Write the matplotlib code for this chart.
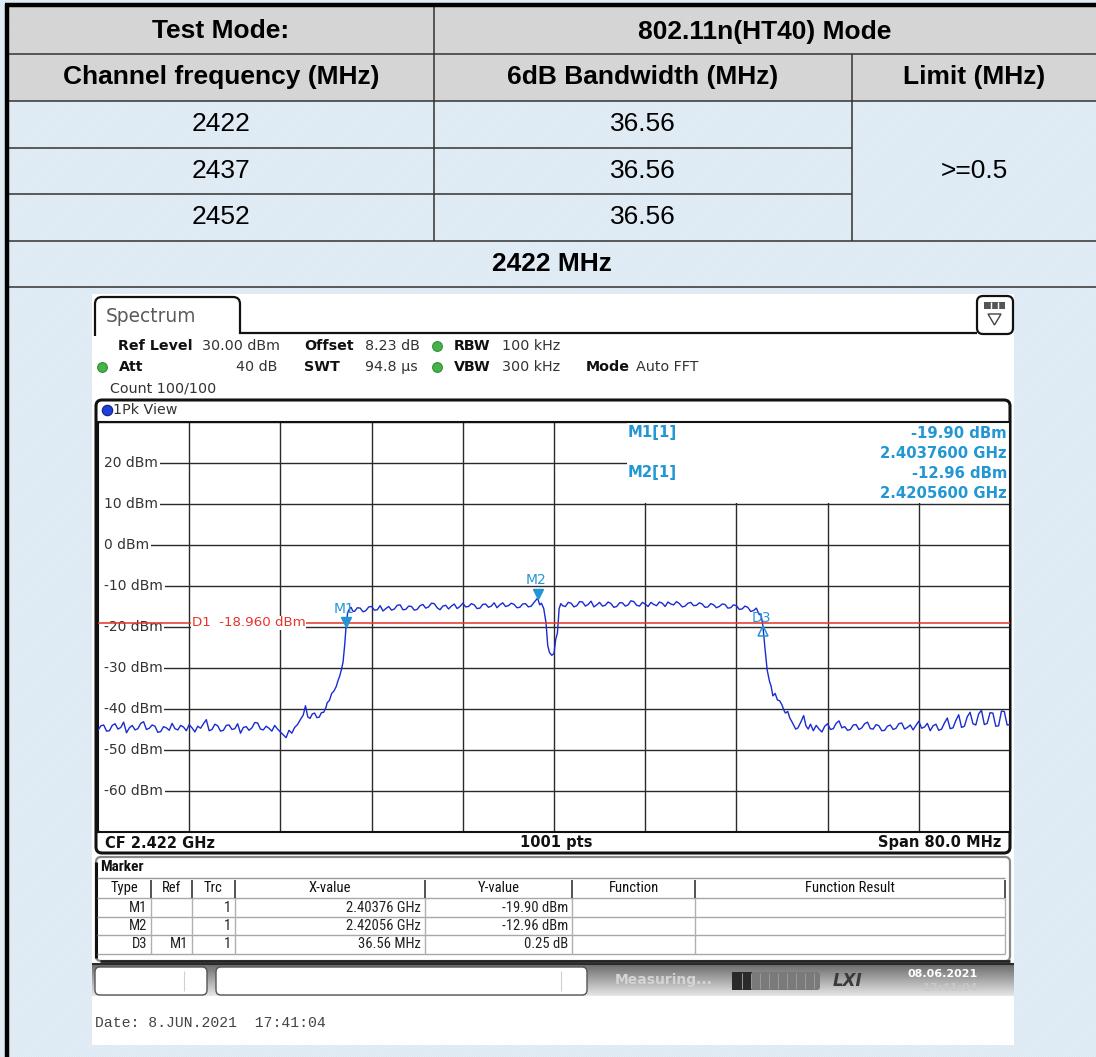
import numpy as np
import matplotlib
matplotlib.use("Agg")
import matplotlib.pyplot as plt
from matplotlib import font_manager
from matplotlib.patches import Rectangle, FancyBboxPatch, Polygon, PathPatch
from matplotlib.path import Path
from matplotlib.transforms import blended_transform_factory, offset_copy

W, H = 1096, 1057

# ---- summary table ----
test_mode = "802.11n(HT40) Mode"
col_titles = ["Channel frequency (MHz)", "6dB Bandwidth (MHz)", "Limit (MHz)"]
channels_mhz = [2422, 2437, 2452]
bandwidth_mhz = [36.56, 36.56, 36.56]
limit_text = ">=0.5"
shown_channel = "2422 MHz"

# ---- analyzer setup ----
center_ghz = 2.422
span_mhz = 80.0
ref_level_dbm = 30.0
db_per_div = 10
n_div = 10
sweep_points = 1001
d1_dbm = -18.960

# ---- trace: (offset from start freq in MHz, level dBm) ----
trace_points = [
    # noise floor, left
    (0.00, -45.2), (0.25, -44.1), (0.5, -43.9), (0.75, -45.4), (1.0, -45.3),
    (1.25, -44.0), (1.5, -43.6), (1.75, -44.9), (2.0, -44.5), (2.25, -43.2),
    (2.5, -45.8), (2.75, -44.6), (3.0, -44.0), (3.25, -45.1), (3.5, -44.8),
    (3.75, -43.5), (4.0, -43.1), (4.25, -45.0), (4.5, -44.7), (4.75, -43.9),
    (5.0, -44.2), (5.25, -45.7), (5.5, -45.5), (5.75, -44.3), (6.0, -44.6),
    (6.25, -45.2), (6.5, -43.5), (6.75, -44.8), (7.0, -45.1), (7.25, -44.0),
    (7.5, -44.4), (7.75, -45.3), (8.0, -43.8), (8.25, -44.6), (8.5, -45.6),
    (8.75, -44.2), (9.0, -44.7), (9.25, -43.6), (9.5, -42.6), (9.75, -45.3),
    (10.0, -45.0), (10.25, -43.7), (10.5, -44.1), (10.75, -45.4), (11.0, -45.2),
    (11.25, -44.0), (11.5, -43.9), (11.75, -45.0), (12.0, -44.8), (12.25, -43.6),
    (12.5, -45.9), (12.75, -44.5), (13.0, -44.3), (13.25, -45.2), (13.5, -44.6),
    (13.75, -43.3), (14.0, -43.4), (14.25, -44.9), (14.5, -45.1), (14.75, -44.2),
    (15.0, -44.7), (15.25, -45.4), (15.5, -44.0), (15.75, -44.9), (16.0, -45.6),
    (16.25, -46.3), (16.5, -47.0), (16.75, -45.2), (17.0, -45.9), (17.25, -44.5),
    # lower band edge
    (17.5, -43.8), (17.75, -42.6), (18.0, -41.5), (18.2, -39.2), (18.4, -41.9),
    (18.6, -42.3), (18.8, -41.2), (19.0, -41.0), (19.2, -42.1), (19.4, -42.0),
    (19.6, -40.9), (19.8, -40.8), (20.0, -39.6), (20.1, -38.5), (20.3, -37.9),
    (20.5, -36.2), (20.7, -35.6), (20.9, -34.5), (21.05, -33.1), (21.2, -32.0),
    (21.35, -30.4), (21.5, -28.5), (21.65, -24.0), (21.76, -19.9), (21.9, -16.5),
    (22.05, -15.6), (22.2, -15.2), (22.35, -16.1),
    # in-band, left half
    (22.5, -16.2), (22.75, -15.3), (23.0, -15.4), (23.25, -16.3), (23.5, -16.0),
    (23.75, -15.1), (24.0, -15.0), (24.25, -15.9), (24.5, -15.8), (24.75, -14.8),
    (25.0, -16.1), (25.25, -15.5), (25.5, -15.0), (25.75, -15.9), (26.0, -15.6),
    (26.25, -14.7), (26.5, -14.6), (26.75, -15.8), (27.0, -15.7), (27.25, -14.9),
    (27.5, -15.0), (27.75, -15.9), (28.0, -15.7), (28.25, -14.8), (28.5, -14.5),
    (28.75, -15.4), (29.0, -15.1), (29.25, -14.2), (29.5, -14.3), (29.75, -15.3),
    (30.0, -15.8), (30.25, -14.9), (30.5, -14.7), (30.75, -15.6), (31.0, -14.9),
    (31.25, -14.4), (31.5, -15.5), (31.75, -15.0), (32.0, -14.2), (32.25, -15.1),
    (32.5, -15.0), (32.75, -14.3), (33.0, -14.6), (33.25, -15.5), (33.5, -15.4),
    (33.75, -14.5), (34.0, -14.4), (34.25, -15.2), (34.5, -14.9), (34.75, -14.1),
    (35.0, -15.3), (35.25, -14.6), (35.5, -14.1), (35.75, -15.0), (36.0, -14.8),
    (36.25, -14.2), (36.5, -14.5), (36.75, -15.3), (37.0, -15.2), (37.25, -14.4),
    (37.5, -14.3), (37.75, -15.1), (38.0, -14.9), (38.25, -14.0), (38.56, -12.96),
    (38.75, -14.6), (38.9, -14.2), (39.1, -15.5),
    # centre notch
    (39.3, -19.0), (39.45, -24.5), (39.6, -26.2), (39.8, -26.9), (40.0, -26.5),
    (40.15, -23.0), (40.3, -21.5), (40.45, -15.5), (40.6, -14.3),
    # in-band, right half
    (40.75, -14.8), (41.0, -15.0), (41.25, -14.0), (41.5, -14.2), (41.75, -15.1),
    (42.0, -14.8), (42.25, -13.8), (42.5, -13.9), (42.75, -14.9), (43.0, -14.5),
    (43.25, -13.7), (43.5, -15.1), (43.75, -14.6), (44.0, -14.0), (44.25, -14.9),
    (44.5, -14.7), (44.75, -13.9), (45.0, -14.3), (45.25, -15.2), (45.5, -15.0),
    (45.75, -14.1), (46.0, -14.1), (46.25, -14.9), (46.5, -14.6), (46.75, -13.6),
    (47.0, -13.8), (47.25, -14.7), (47.5, -14.9), (47.75, -14.0), (48.0, -14.4),
    (48.25, -15.0), (48.5, -14.0), (48.75, -14.5), (49.0, -14.8), (49.25, -13.9),
    (49.5, -14.2), (49.75, -15.0), (50.0, -13.9), (50.25, -14.4), (50.5, -14.6),
    (50.75, -13.8), (51.0, -14.3), (51.25, -15.1), (51.5, -14.9), (51.75, -14.2),
    (52.0, -14.0), (52.25, -14.8), (52.5, -14.7), (52.75, -14.1), (53.0, -14.4),
    (53.25, -15.2), (53.5, -15.1), (53.75, -14.3), (54.0, -14.6), (54.25, -15.3),
    (54.5, -15.0), (54.75, -14.4), (55.0, -14.5), (55.25, -15.4), (55.5, -15.3),
    (55.75, -14.6), (56.0, -14.8), (56.25, -15.7), (56.5, -15.6), (56.75, -14.9),
    (57.0, -15.2), (57.25, -16.2), (57.5, -16.0), (57.75, -15.4), (58.0, -17.0),
    (58.15, -16.8),
    # upper band edge
    (58.32, -19.65), (58.5, -25.0), (58.7, -30.5), (58.9, -33.2), (59.05, -34.5),
    (59.2, -36.8), (59.4, -36.2), (59.6, -37.8), (59.8, -38.0), (60.0, -39.0),
    (60.15, -40.2), (60.3, -41.0), (60.5, -40.6), (60.7, -42.3), (60.85, -43.0),
    (61.0, -43.8), (61.2, -44.9), (61.4, -44.6), (61.65, -43.2), (61.9, -41.6),
    (62.1, -44.1), (62.3, -44.9), (62.5, -43.7), (62.75, -45.3),
    # noise floor, right
    (63.0, -44.0), (63.25, -44.9), (63.5, -45.6), (63.75, -44.2), (64.0, -43.6),
    (64.25, -45.0), (64.5, -44.8), (64.75, -43.5), (65.0, -42.9), (65.25, -44.6),
    (65.5, -44.3), (65.75, -45.2), (66.0, -45.0), (66.25, -43.9), (66.5, -43.8),
    (66.75, -45.0), (67.0, -44.6), (67.25, -43.6), (67.5, -43.2), (67.75, -44.8),
    (68.0, -44.9), (68.25, -43.8), (68.5, -44.1), (68.75, -45.3), (69.0, -45.2),
    (69.25, -44.2), (69.5, -43.9), (69.75, -45.0), (70.0, -44.7), (70.25, -43.6),
    (70.5, -43.4), (70.75, -44.9), (71.0, -44.5), (71.25, -43.9), (71.5, -45.1),
    (71.75, -44.0), (72.0, -43.0), (72.25, -44.7), (72.5, -44.4), (72.75, -43.5),
    (73.0, -45.3), (73.25, -44.1), (73.5, -43.7), (73.75, -45.2), (74.0, -44.9),
    (74.25, -43.4), (74.5, -42.2), (74.75, -44.8), (75.0, -44.6), (75.25, -42.8),
    (75.5, -41.4), (75.75, -44.5), (76.0, -44.2), (76.25, -41.9), (76.5, -40.8),
    (76.75, -43.6), (77.0, -43.9), (77.25, -41.2), (77.5, -40.3), (77.75, -43.8),
    (78.0, -43.5), (78.25, -40.9), (78.5, -41.0), (78.75, -44.2), (79.0, -44.1),
    (79.25, -40.5), (79.5, -40.6), (79.75, -43.9), (80.0, -43.8),
]

# ---- markers ----
marker_names = ["M1", "M2"]
marker_ghz = [2.40376, 2.42056]
marker_dbm = [-19.90, -12.96]
delta_name = "D3"
delta_ref = "M1"
delta_mhz = 36.56
delta_db = 0.25

# ---------------------------------------------------------------------------
# a narrow face for the marker table, if one is installed
fonts = font_manager.fontManager.ttflist
NARROW, NARROW_KW, NSIZE = "DejaVu Sans", {}, 8.2
for fam in ("Liberation Sans Narrow", "Roboto Condensed", "Open Sans Condensed"):
    if any(f.name == fam for f in fonts):
        NARROW, NARROW_KW, NSIZE = fam, {}, 10.5
        break
else:
    for fam in ("Noto Sans", "Roboto", "Open Sans", "DejaVu Sans"):
        if any(f.name == fam and f.stretch in ("condensed", "semi-condensed")
               for f in fonts):
            NARROW, NARROW_KW, NSIZE = fam, {"fontstretch": "condensed"}, 9.5
            break

plt.rcParams["hatch.linewidth"] = 0.4
ARIAL = "Liberation Sans"
RS = "DejaVu Sans"
MK = "#2396d4"

fig = plt.figure(figsize=(W / 100, H / 100), dpi=100)
ax = fig.add_axes([0, 0, 1, 1])
ax.set_xlim(0, W)
ax.set_ylim(H, 0)
ax.axis("off")
P = ax.transData


def txt(x, y, s, size=10.3, weight="normal", color="#222222", ha="left",
        va="center", family=RS, target=None, **kw):
    tgt = ax if target is None else target
    return tgt.text(x, y, s, fontsize=size, fontweight=weight, color=color,
                    ha=ha, va=va, family=family, transform=P, zorder=8, **kw)


def hline(y, x0, x1, color="#333333", lw=1.1, z=3):
    ax.plot([x0, x1], [y, y], color=color, lw=lw, zorder=z, solid_capstyle="butt")


def vline(x, y0, y1, color="#333333", lw=1.1, z=3):
    ax.plot([x, x], [y0, y1], color=color, lw=lw, zorder=z, solid_capstyle="butt")


# page background with fine texture
ax.add_patch(Rectangle((0, 0), W, H, fc="#e6f0f8", ec="#d3e2ee", hatch="/" * 14,
                       lw=0, zorder=0))
ax.add_patch(Rectangle((8, 5), W - 8, 95.7, fc="#dadada", ec="#cdcdcd",
                       hatch="/" * 14, lw=0, zorder=0.5))

# table grid
row_y = [5, 54, 100.7, 147.7, 194, 240.7, 287]
col_x = [8, 434, 852, W]
hline(row_y[1], 8, W)
hline(row_y[2], 8, W)
hline(row_y[3], 8, col_x[2])
hline(row_y[4], 8, col_x[2])
hline(row_y[5], 8, W)
hline(row_y[6], 8, W)
vline(col_x[1], row_y[0], row_y[5])
vline(col_x[2], row_y[1], row_y[5])
hline(5, 5, W, color="black", lw=3.2, z=4)
vline(7, 4, H, color="black", lw=3.2, z=4)

cx = [(col_x[0] + col_x[1]) / 2, (col_x[1] + col_x[2]) / 2, (col_x[2] + col_x[3]) / 2]
txt(cx[0], (row_y[0] + row_y[1]) / 2 + 2, "Test Mode:", size=19, weight="bold",
    color="black", ha="center", family=ARIAL)
txt((col_x[1] + W) / 2, (row_y[0] + row_y[1]) / 2 + 2, test_mode, size=19,
    weight="bold", color="black", ha="center", family=ARIAL)
for i, title in enumerate(col_titles):
    txt(cx[i], (row_y[1] + row_y[2]) / 2, title, size=19, weight="bold",
        color="black", ha="center", family=ARIAL)
for r, (ch, bw) in enumerate(zip(channels_mhz, bandwidth_mhz)):
    yc = (row_y[2 + r] + row_y[3 + r]) / 2
    txt(cx[0], yc, str(ch), size=19, color="black", ha="center", family=ARIAL)
    txt(cx[1], yc, f"{bw:.2f}", size=19, color="black", ha="center", family=ARIAL)
txt(cx[2], (row_y[2] + row_y[5]) / 2, limit_text, size=19, color="black",
    ha="center", family=ARIAL)
txt((8 + W) / 2, (row_y[5] + row_y[6]) / 2, shown_channel, size=19,
    weight="bold", color="black", ha="center", family=ARIAL)

# ---- analyzer screenshot ----
ax.add_patch(Rectangle((92, 294), 1014 - 92, 1045 - 294, fc="white", ec="none",
                       zorder=1))

# tab and top line
tab = Path([(95, 336), (95, 304), (95, 297), (102, 297), (233, 297), (240, 297),
            (240, 304), (240, 333), (977, 333)],
           [Path.MOVETO, Path.LINETO, Path.CURVE3, Path.CURVE3, Path.LINETO,
            Path.CURVE3, Path.CURVE3, Path.LINETO, Path.LINETO])
ax.add_patch(PathPatch(tab, fc="none", ec="#111111", lw=1.6, zorder=3))
txt(106, 316, "Spectrum", size=13.4, color="#5a5a5a")
ax.add_patch(FancyBboxPatch((977, 296), 36, 38, boxstyle="round,pad=0,rounding_size=6",
                            fc="white", ec="#111111", lw=1.6, zorder=3))
ax.add_patch(Rectangle((984, 302), 21, 7, fc="#555555", ec="none", zorder=4))
for xd in (991, 998):
    vline(xd, 302, 309, color="white", lw=1, z=5)
ax.add_patch(Polygon([(988, 314), (1001, 314), (994.5, 325)], closed=True,
                     fc="white", ec="#444444", lw=1, zorder=4))

# setting lines
ax.plot([102, 437, 437], [367, 346, 367], "o", ms=7, mfc="#45b34a", mec="#2f8a34",
        mew=0.8, zorder=6)
txt(118, 346, "Ref Level", weight="bold", color="#111111")
txt(202, 346, f"{ref_level_dbm:.2f} dBm", color="#333333")
txt(304, 346, "Offset", weight="bold", color="#111111")
txt(365, 346, "8.23 dB", color="#333333")
txt(454, 346, "RBW", weight="bold", color="#111111")
txt(502, 346, "100 kHz", color="#333333")
txt(119, 367, "Att", weight="bold", color="#111111")
txt(277, 367, "40 dB", color="#333333", ha="right")
txt(304, 367, "SWT", weight="bold", color="#111111")
txt(365, 367, "94.8 µs", color="#333333")
txt(454, 367, "VBW", weight="bold", color="#111111")
txt(502, 367, "300 kHz", color="#333333")
txt(586, 367, "Mode", weight="bold", color="#111111")
txt(636, 367, "Auto FFT", color="#333333")
txt(110, 388, "Count 100/100", color="#333333")

# 1Pk View frame
ax.add_patch(FancyBboxPatch((96, 400), 1010 - 96, 853 - 400,
                            boxstyle="round,pad=0,rounding_size=6",
                            fc="white", ec="#111111", lw=2.2, zorder=2))
ax.plot([107], [410], "o", ms=7.5, mfc="#1f3fd6", mec="#10208a", mew=0.8, zorder=6)
txt(113, 410, "1Pk View", color="#333333")

f_start = center_ghz - span_mhz / 2000
f_stop = center_ghz + span_mhz / 2000
y_bot = ref_level_dbm - n_div * db_per_div

x0, y0, x1, y1 = 98, 422, 1010, 832
ax_s = fig.add_axes([x0 / W, 1 - y1 / H, (x1 - x0) / W, (y1 - y0) / H])
ax_s.set_zorder(5)
ax_s.set_xlim(f_start, f_stop)
ax_s.set_ylim(y_bot, ref_level_dbm)
ax_s.set_xticks(np.linspace(f_start, f_stop, n_div + 1))
ax_s.set_yticks(np.linspace(y_bot, ref_level_dbm, n_div + 1))
ax_s.tick_params(length=0, labelbottom=False, labelleft=False)
ax_s.grid(True, color="#2a2a2a", lw=1.0)
for sp in ax_s.spines.values():
    sp.set_color("#111111")
    sp.set_linewidth(1.5)

# readout area hides the grid in the upper right; label margin on the left
rx = (627 - x0) / (x1 - x0)
ax_s.add_patch(Rectangle((rx, 0.802), 1 - rx, 0.2, transform=ax_s.transAxes,
                         fc="white", ec="none", zorder=2))
ax_s.add_patch(Rectangle((0, 0.005), 6 / (x1 - x0), 0.99, transform=ax_s.transAxes,
                         fc="white", ec="none", zorder=2))

ylab_tr = blended_transform_factory(P, ax_s.transData)
for lvl in np.arange(ref_level_dbm - db_per_div, y_bot, -db_per_div):
    ax_s.text(104, lvl, f"{lvl:.0f} dBm", transform=ylab_tr, fontsize=10,
              family=RS, color="#333333", ha="left", va="center", zorder=4,
              bbox=dict(boxstyle="square,pad=0.12", fc="white", ec="none"))

trace_ghz = [f_start + m / 1000 for m, _ in trace_points]
trace_dbm = [v for _, v in trace_points]
ax_s.plot(trace_ghz, trace_dbm, color="#1a2bd0", lw=1.0, zorder=3)

ax_s.axhline(d1_dbm, color="#e8322a", lw=1.1, zorder=4.5)
ax_s.text(192, d1_dbm, f"D1  {d1_dbm:.3f} dBm", transform=ylab_tr, fontsize=9.6,
          family=RS, color="#e8322a", ha="left", va="center", zorder=5,
          bbox=dict(boxstyle="square,pad=0.05", fc="white", ec="none"))

down = offset_copy(ax_s.transData, fig=fig, x=0, y=4.5, units="dots")
for name, f, lvl in zip(marker_names, marker_ghz, marker_dbm):
    ax_s.plot([f], [lvl], marker="v", ms=7.5, color=MK, transform=down, zorder=6)
    ax_s.annotate(name, (f, lvl), xytext=(-2, 18), textcoords="offset pixels",
                  fontsize=10, family=RS, color=MK, ha="center", va="center",
                  zorder=6)
d3_ghz = marker_ghz[0] + delta_mhz / 1000
d3_dbm = marker_dbm[0] + delta_db
up = offset_copy(ax_s.transData, fig=fig, x=0, y=-5, units="dots")
ax_s.plot([d3_ghz], [d3_dbm], marker="^", ms=7, mfc="none", mec=MK, mew=1.1,
          transform=up, zorder=6)
ax_s.annotate(delta_name, (d3_ghz, d3_dbm), xytext=(-1, 8),
              textcoords="offset pixels", fontsize=10, family=RS, color=MK,
              ha="center", va="center", zorder=6)

# marker readout
for i, (name, f, lvl) in enumerate(zip(marker_names, marker_ghz, marker_dbm)):
    yy = 433 + 40 * i
    txt(628, yy, f"{name}[1]", size=10.7, weight="bold", color=MK, target=ax_s)
    txt(1007, yy, f"{lvl:.2f} dBm", size=10.7, weight="bold", color=MK,
        ha="right", target=ax_s)
    txt(1007, yy + 20, f"{f:.7f} GHz", size=10.7, weight="bold", color=MK,
        ha="right", target=ax_s)

# bottom info bar of the diagram
txt(105, 843, f"CF {center_ghz:.3f} GHz", size=10.5, weight="bold", color="#111111")
txt((x0 + x1) / 2 + 2, 843, f"{sweep_points} pts", size=10.5, weight="bold",
    color="#111111", ha="center")
txt(1001, 843, f"Span {span_mhz:.1f} MHz", size=10.5, weight="bold",
    color="#111111", ha="right")

# marker table
ax.add_patch(FancyBboxPatch((96, 857), 1010 - 96, 961 - 857,
                            boxstyle="round,pad=0,rounding_size=5",
                            fc="white", ec="#8a8a8a", lw=1.6, zorder=2))
vline(96, 862, 958, color="#111111", lw=2.2, z=3)
hline(961, 100, 1010, color="#222222", lw=2.0, z=3)
txt(100, 867, "Marker", size=NSIZE + 0.5, weight="bold", color="#111111",
    family=NARROW, **NARROW_KW)

seps = [97, 151, 192, 235, 425, 572, 695, 1005]
heads = ["Type", "Ref", "Trc", "X-value", "Y-value", "Function", "Function Result"]
ty = [878, 898, 917, 935, 954]
hline(ty[0], 97, 1005, color="#9a9a9a", lw=1.0)
for y in ty[1:]:
    hline(y, 97, 1005, color="#a8a8a8", lw=1.0)
for i, xs in enumerate(seps[1:]):
    vline(xs, ty[0] + 2, ty[1], color="#444444", lw=1.3)
    vline(xs, ty[1], ty[-1], color="#b0b0b0", lw=1.0)
for i, hd in enumerate(heads):
    txt((seps[i] + seps[i + 1]) / 2, (ty[0] + ty[1]) / 2, hd, size=NSIZE,
        color="#111111", ha="center", family=NARROW, **NARROW_KW)

rows = [
    [marker_names[0], "", "1", f"{marker_ghz[0]:.5f} GHz", f"{marker_dbm[0]:.2f} dBm"],
    [marker_names[1], "", "1", f"{marker_ghz[1]:.5f} GHz", f"{marker_dbm[1]:.2f} dBm"],
    [delta_name, delta_ref, "1", f"{delta_mhz:.2f} MHz", f"{delta_db:.2f} dB"],
]
for r, row in enumerate(rows):
    yc = (ty[1 + r] + ty[2 + r]) / 2
    for c, val in enumerate(row):
        if val:
            txt(seps[c + 1] - 4, yc, val, size=NSIZE, color="#222222", ha="right",
                family=NARROW, **NARROW_KW)

# status bar
grad = np.linspace(0.42, 0.9, 40)[:, None]
ax.imshow(grad, extent=[92, 1014, 996, 964], cmap="gray", vmin=0, vmax=1,
          aspect="auto", zorder=2, interpolation="bilinear")
hline(964, 92, 1014, color="#2a2a2a", lw=1.5)
for bx0, bx1, dv in ((95, 207, 184), (216, 587, 561)):
    ax.add_patch(FancyBboxPatch((bx0, 967), bx1 - bx0, 28,
                                boxstyle="round,pad=0,rounding_size=5",
                                fc="white", ec="#555555", lw=1.0, zorder=3))
    vline(dv, 971, 991, color="#d0d0d0", lw=0.8, z=4)
txt(615, 980, "Measuring...", size=10, weight="bold", color="#d4d4d4")
ax.add_patch(FancyBboxPatch((732, 972), 88, 18, boxstyle="round,pad=0,rounding_size=3",
                            fc="#7a7a7a", ec="none", zorder=3))
ax.add_patch(Rectangle((732, 972), 20, 18, fc="#2a2a2a", ec="none", zorder=4))
for xd in np.arange(742, 820, 9):
    vline(xd, 973, 989, color="#9a9a9a", lw=0.7, z=5)
txt(833, 981, "LXI", size=12, weight="bold", style="italic", color="#3a3a3a")
txt(943, 974, "08.06.2021", size=8, weight="bold", color="white", ha="center")
txt(950, 988, "17:41:04", size=8, weight="bold", color="#c8c8c8", ha="center")

txt(95, 1023, "Date: 8.JUN.2021  17:41:04", size=10.6, color="#444444",
    family="Liberation Mono")

ax.set_xlim(0, W)
ax.set_ylim(H, 0)
fig.savefig("out.png", dpi=100)
